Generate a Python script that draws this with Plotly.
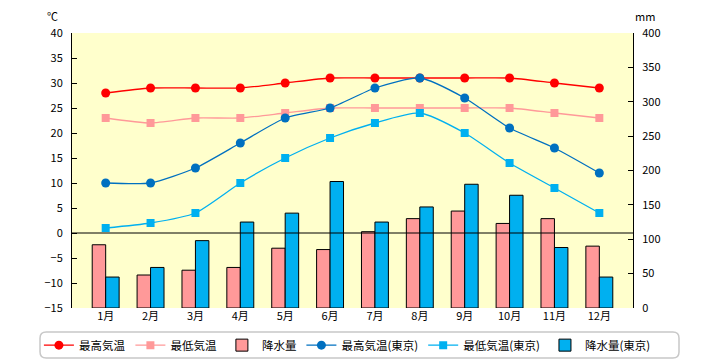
import plotly.graph_objects as go

months = ["1月", "2月", "3月", "4月", "5月", "6月", "7月", "8月", "9月", "10月", "11月", "12月"]
high_local = [28, 29, 29, 29, 30, 31, 31, 31, 31, 31, 30, 29]
low_local = [23, 22, 23, 23, 24, 25, 25, 25, 25, 25, 24, 23]
precip_local = [92, 48, 55, 59, 87, 85, 111, 130, 141, 123, 130, 90]
high_tokyo = [10, 10, 13, 18, 23, 25, 29, 31, 27, 21, 17, 12]
low_tokyo = [1, 2, 4, 10, 15, 19, 22, 24, 20, 14, 9, 4]
precip_tokyo = [45, 59, 98, 125, 138, 184, 125, 147, 180, 164, 88, 45]

FONT = "Noto Sans CJK JP"
fig = go.Figure()

fig.add_trace(go.Bar(x=months, y=precip_local, name="降水量", yaxis="y",
                     marker=dict(color="#FF9999", line=dict(color="black", width=1)),
                     legendrank=3))
fig.add_trace(go.Bar(x=months, y=precip_tokyo, name="降水量(東京)", yaxis="y",
                     marker=dict(color="#00B0F0", line=dict(color="black", width=1)),
                     legendrank=6))

def line(y, name, color, symbol, rank):
    fig.add_trace(go.Scatter(x=months, y=y, name=name, yaxis="y2", mode="lines+markers",
                             line=dict(color=color, width=1.3, shape="spline", smoothing=0.6),
                             marker=dict(color=color, symbol=symbol, size=9 if symbol == "circle" else 8),
                             legendrank=rank))

line(high_local, "最高気温", "#FF0000", "circle", 1)
line(low_local, "最低気温", "#FF9999", "square", 2)
line(high_tokyo, "最高気温(東京)", "#0070C0", "circle", 4)
line(low_tokyo, "最低気温(東京)", "#00B0F0", "square", 5)

# rounded legend box
x0, x1 = -0.057, 1.082
y0, y1 = -0.182, -0.087
rx, ry = 0.011, 0.022
path = (f"M {x0+rx},{y1} L {x1-rx},{y1} Q {x1},{y1} {x1},{y1-ry} "
        f"L {x1},{y0+ry} Q {x1},{y0} {x1-rx},{y0} L {x0+rx},{y0} "
        f"Q {x0},{y0} {x0},{y0+ry} L {x0},{y1-ry} Q {x0},{y1} {x0+rx},{y1} Z")

fig.update_layout(
    width=720, height=360,
    margin=dict(l=72, r=87, t=33, b=52, autoexpand=False),
    paper_bgcolor="white", plot_bgcolor="#FFFFCC",
    font=dict(family=FONT, size=11, color="black"),
    barmode="group", bargap=0.4, bargroupgap=0,
    showlegend=True,
    legend=dict(orientation="h", x=-0.059, xanchor="left", y=-0.135, yanchor="middle",
                font=dict(family=FONT, size=11.5), bgcolor="rgba(0,0,0,0)",
                itemwidth=30, tracegroupgap=0),
    xaxis=dict(type="category", showgrid=False, showline=False, ticks="",
               tickfont=dict(family=FONT, size=11)),
    yaxis=dict(side="right", range=[0, 400], dtick=50, showgrid=False, zeroline=False,
               showline=True, linecolor="black", linewidth=1, ticks="inside", ticklen=5,
               tickcolor="black", ticklabelstandoff=6),
    yaxis2=dict(side="left", overlaying="y", range=[-15, 40], dtick=5, showgrid=False,
                zeroline=False, showline=True, linecolor="black", linewidth=1,
                ticks="inside", ticklen=5, tickcolor="black", ticklabelstandoff=6),
    shapes=[
        dict(type="line", xref="paper", x0=0, x1=1, yref="y2", y0=0, y1=0,
             line=dict(color="black", width=1), layer="above"),
        dict(type="path", xref="paper", yref="paper", path=path,
             line=dict(color="#C8C8C8", width=1.5), fillcolor="rgba(0,0,0,0)"),
    ],
    annotations=[
        dict(text="℃", xref="paper", yref="paper", x=-0.048, y=1.062, yanchor="middle",
             showarrow=False, font=dict(family=FONT, size=11)),
        dict(text="mm", xref="paper", yref="paper", x=1.043, y=1.062, yanchor="middle",
             showarrow=False, font=dict(family=FONT, size=11)),
    ],
)

fig.write_html("out.html", config={"displayModeBar": False},
               post_script="document.body.style.margin='0';document.body.style.overflow='hidden';")
